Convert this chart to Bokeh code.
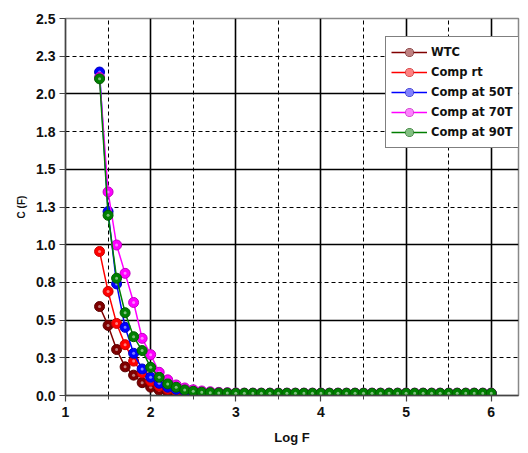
from bokeh.plotting import figure
from bokeh.models import (Range1d, FixedTicker, Grid, Legend, LegendItem,
                          SingleIntervalTicker)
from bokeh.embed import file_html
from bokeh.resources import INLINE

# ---------------- data ----------------
log_f = [1.4, 1.5, 1.6, 1.7, 1.8, 1.9, 2.0, 2.1, 2.2, 2.3,
         2.4, 2.5, 2.6, 2.7, 2.8, 2.9, 3.0, 3.1, 3.2, 3.3,
         3.4, 3.5, 3.6, 3.7, 3.8, 3.9, 4.0, 4.1, 4.2, 4.3,
         4.4, 4.5, 4.6, 4.7, 4.8, 4.9, 5.0, 5.1, 5.2, 5.3,
         5.4, 5.5, 5.6, 5.7, 5.8, 5.9, 6.0]

c_wtc = [0.59, 0.465, 0.305, 0.19, 0.135, 0.085, 0.055, 0.035, 0.025, 0.018,
         0.014, 0.012, 0.011, 0.010, 0.010, 0.010, 0.010, 0.010, 0.010, 0.010,
         0.010, 0.010, 0.010, 0.010, 0.010, 0.010, 0.010, 0.010, 0.010, 0.010,
         0.010, 0.010, 0.010, 0.010, 0.010, 0.010, 0.010, 0.010, 0.010, 0.010,
         0.010, 0.010, 0.010, 0.010, 0.010, 0.010, 0.010]

c_rt = [0.955, 0.69, 0.478, 0.337, 0.228, 0.15, 0.095, 0.062, 0.042, 0.030,
        0.022, 0.018, 0.015, 0.013, 0.012, 0.011, 0.011, 0.011, 0.011, 0.011,
        0.011, 0.011, 0.011, 0.011, 0.011, 0.011, 0.011, 0.011, 0.011, 0.011,
        0.011, 0.011, 0.011, 0.011, 0.011, 0.011, 0.011, 0.011, 0.011, 0.011,
        0.011, 0.011, 0.011, 0.011, 0.011, 0.011, 0.011]

c_50t = [2.145, 1.22, 0.74, 0.452, 0.28, 0.176, 0.121, 0.081, 0.055, 0.040,
         0.030, 0.024, 0.020, 0.017, 0.015, 0.014, 0.013, 0.013, 0.013, 0.013,
         0.013, 0.013, 0.013, 0.013, 0.013, 0.013, 0.013, 0.013, 0.013, 0.013,
         0.013, 0.013, 0.013, 0.013, 0.013, 0.013, 0.013, 0.013, 0.013, 0.013,
         0.013, 0.013, 0.013, 0.013, 0.013, 0.013, 0.013]

c_70t = [2.11, 1.35, 0.998, 0.81, 0.617, 0.379, 0.271, 0.154, 0.104, 0.070,
         0.050, 0.038, 0.030, 0.025, 0.021, 0.019, 0.017, 0.016, 0.016, 0.016,
         0.016, 0.016, 0.016, 0.016, 0.016, 0.016, 0.016, 0.016, 0.016, 0.016,
         0.016, 0.016, 0.016, 0.016, 0.016, 0.016, 0.016, 0.016, 0.016, 0.016,
         0.016, 0.016, 0.016, 0.016, 0.016, 0.016, 0.016]

c_90t = [2.10, 1.195, 0.778, 0.549, 0.39, 0.298, 0.187, 0.121, 0.077, 0.055,
         0.037, 0.028, 0.022, 0.019, 0.017, 0.016, 0.015, 0.015, 0.015, 0.015,
         0.015, 0.015, 0.015, 0.015, 0.015, 0.015, 0.015, 0.015, 0.015, 0.015,
         0.015, 0.015, 0.015, 0.015, 0.015, 0.015, 0.015, 0.015, 0.015, 0.015,
         0.015, 0.015, 0.015, 0.015, 0.015, 0.015, 0.015]

series_names = ["WTC", "Comp rt", "Comp at 50T", "Comp at 70T", "Comp at 90T"]
series_values = [c_wtc, c_rt, c_50t, c_70t, c_90t]
series_colors = ["#800000", "#ff0000", "#0000ff", "#ff00ff", "#008000"]
series_edges = ["#5a0000", "#c80000", "#0000c0", "#c000c0", "#005c00"]

y_ticks = [0.0, 0.25, 0.5, 0.75, 1.0, 1.25, 1.5, 1.75, 2.0, 2.25, 2.5]
y_tick_labels = ["0.0", "0.3", "0.5", "0.8", "1.0", "1.3", "1.5", "1.8", "2.0", "2.3", "2.5"]
y_solid_grid = [0.5, 1.0, 1.5, 2.0]
y_dashed_grid = [0.25, 0.75, 1.25, 1.75, 2.25]
x_solid_grid = [2, 3, 4, 5, 6]
x_dashed_grid = [1.5, 2.5, 3.5, 4.5, 5.5]

# ---------------- figure ----------------
p = figure(width=520, height=448, output_backend="svg", toolbar_location=None,
           x_range=Range1d(1, 6.32), y_range=Range1d(0, 2.5),
           min_border_left=65, min_border_top=18, min_border_right=2,
           min_border_bottom=53, background_fill_color="white",
           border_fill_color="white")
p.outline_line_color = "#888888"
p.outline_line_width = 1.5
p.xgrid.visible = False
p.ygrid.visible = False

for dim, ticks, dash, w in [(1, y_solid_grid, "solid", 1.6),
                            (1, y_dashed_grid, "4 3", 1.0),
                            (0, x_solid_grid, "solid", 1.6),
                            (0, x_dashed_grid, "4 3", 1.0)]:
    p.add_layout(Grid(dimension=dim, ticker=FixedTicker(ticks=ticks),
                      grid_line_color="black", grid_line_width=w,
                      grid_line_dash=dash))

# axes
p.xaxis.ticker = SingleIntervalTicker(interval=1, num_minor_ticks=2)
p.yaxis.ticker = FixedTicker(ticks=y_ticks)
p.yaxis.major_label_overrides = {t: l for t, l in zip(y_ticks, y_tick_labels)}
for ax in (p.xaxis[0], p.yaxis[0]):
    ax.axis_line_color = "#444444"
    ax.axis_line_width = 1.5
    ax.major_tick_line_color = "#444444"
    ax.major_tick_line_width = 1.2
    ax.major_tick_out = 6
    ax.major_tick_in = 0
    ax.minor_tick_line_color = "#444444"
    ax.minor_tick_out = 4
    ax.minor_tick_in = 0
    ax.major_label_text_font = "Liberation Sans"
    ax.major_label_text_font_style = "bold"
    ax.major_label_text_font_size = "14px"
    ax.major_label_text_color = "#111111"
    ax.axis_label_text_font = "Liberation Sans"
    ax.axis_label_text_font_style = "bold"
    ax.axis_label_text_color = "#111111"
p.yaxis.minor_tick_line_color = None
p.xaxis.major_label_standoff = 5
p.yaxis.major_label_standoff = 4
p.xaxis.axis_label = "Log F"
p.xaxis.axis_label_text_font_size = "13px"
p.xaxis.axis_label_standoff = 10
p.yaxis.axis_label = "C (F)"
p.yaxis.axis_label_text_font_size = "10px"
p.yaxis.axis_label_standoff = 6

# series
items = []
for name, vals, col, edge in zip(series_names, series_values, series_colors, series_edges):
    ln = p.line(log_f, vals, line_color=col, line_width=1.5)
    sc = p.scatter(log_f, vals, size=10, fill_color=col, line_color=edge, line_width=1)
    hl = p.scatter(log_f, vals, size=3, fill_color="white", fill_alpha=0.5, line_color=None)
    items.append(LegendItem(label=name, renderers=[ln, sc, hl]))

legend = Legend(items=items, location=(320, 247),
                border_line_color="black", border_line_width=1,
                background_fill_color="white", background_fill_alpha=1,
                label_text_font="DejaVu Sans", label_text_font_style="bold",
                label_text_font_size="11.5px", label_text_color="#111111",
                glyph_width=36, glyph_height=20, label_height=20,
                spacing=0, padding=5, label_standoff=4, margin=0)
p.add_layout(legend)

open("out.html", "w").write(file_html(p, INLINE))
